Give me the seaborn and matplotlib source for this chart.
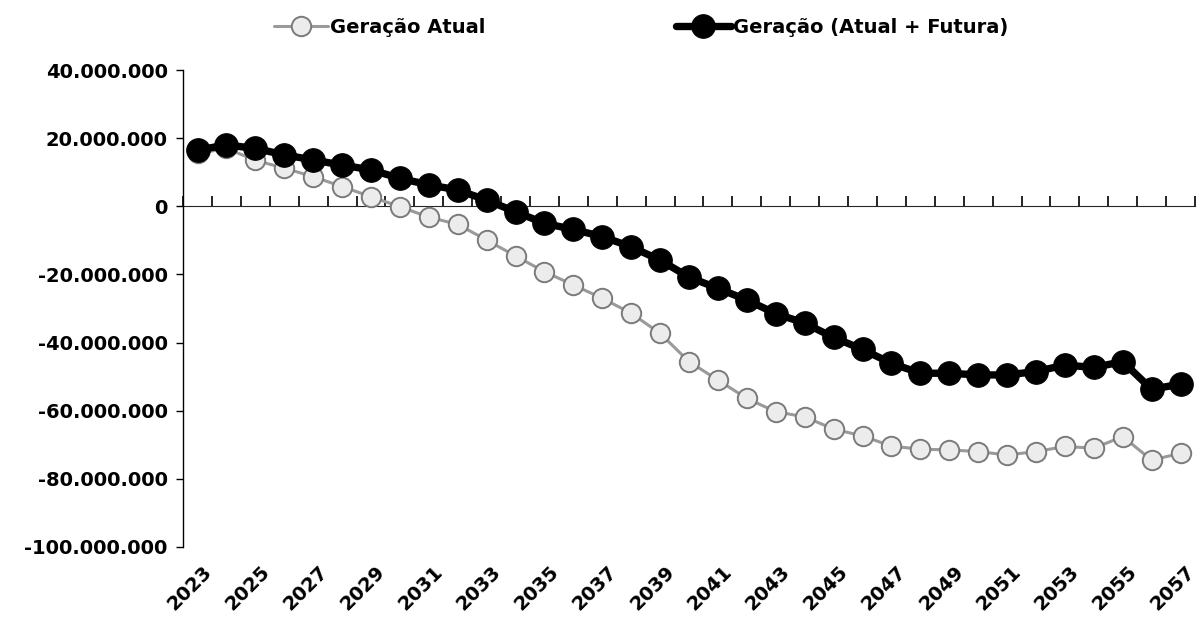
import seaborn as sns
import matplotlib.pyplot as plt
import matplotlib.transforms as mtransforms
import matplotlib.ticker as mticker
import pandas as pd

# anos da projeção
anos = list(range(2023, 2058))

# Geração Atual
geracao_atual = [15.5, 17.0, 13.5, 11.2, 8.7, 5.8, 2.8, -0.1, -3.2, -5.3,
                 -9.9, -14.6, -19.2, -23.1, -27.0, -31.4, -37.3, -45.6, -51.0, -56.4,
                 -60.3, -61.8, -65.4, -67.4, -70.4, -71.3, -71.5, -72.0, -73.0, -72.0,
                 -70.5, -71.0, -67.6, -74.5, -72.5]

# Geração (Atual + Futura)
geracao_total = [16.5, 18.0, 17.0, 15.1, 13.6, 12.1, 10.7, 8.2, 6.3, 4.8,
                 1.8, -1.6, -5.0, -6.8, -8.9, -11.9, -15.8, -20.8, -24.1, -27.5,
                 -31.5, -34.3, -38.5, -42.0, -46.1, -49.0, -49.0, -49.5, -49.5, -48.5,
                 -46.6, -47.3, -45.6, -53.7, -52.2]

df = pd.DataFrame({
    'ano': anos,
    'atual': [v * 1e6 for v in geracao_atual],
    'total': [v * 1e6 for v in geracao_total],
})

sns.set_style('white')
plt.rcParams['font.family'] = ['DejaVu Sans']
plt.rcParams['font.weight'] = 'bold'
plt.rcParams['text.color'] = 'black'
plt.rcParams['xtick.color'] = 'black'
plt.rcParams['ytick.color'] = 'black'
plt.rcParams['axes.labelcolor'] = 'black'

fig = plt.figure(figsize=(11.98, 6.17), dpi=100)
ax = fig.add_axes([0.1528, 0.1135, 0.8447, 0.773])

sns.lineplot(data=df, x='ano', y='atual', ax=ax, color='#9a9a9a', linewidth=2.2,
             marker='o', markersize=14, markerfacecolor='#ececec',
             markeredgecolor='#7a7a7a', markeredgewidth=1.4,
             label='Geração Atual', zorder=2)
sns.lineplot(data=df, x='ano', y='total', ax=ax, color='black', linewidth=5.3,
             marker='o', markersize=17, markerfacecolor='black',
             markeredgecolor='black', label='Geração (Atual + Futura)', zorder=3)

ax.set_xlim(2022.5, 2057.5)
ax.set_ylim(-100e6, 40e6)
ax.set_yticks(range(-100000000, 40000001, 20000000))
ax.yaxis.set_major_formatter(mticker.FuncFormatter(lambda v, p: f'{int(v):,}'.replace(',', '.')))
ax.set_xlabel('')
ax.set_ylabel('')

for s in ['top', 'right', 'bottom']:
    ax.spines[s].set_visible(False)
ax.spines['left'].set_color('black')
ax.spines['left'].set_linewidth(1)
ax.tick_params(axis='y', direction='out', length=5, width=1, left=True,
               labelsize=14, pad=6, colors='black')

# rótulos dos anos na parte de baixo
ax.set_xticks(anos[::2])
ax.set_xticklabels([str(a) for a in anos[::2]], rotation=45, ha='right',
                   fontsize=14, fontweight='bold', color='black')
ax.tick_params(axis='x', length=0, pad=11)
offset = mtransforms.ScaledTranslation(0.18, 0, fig.dpi_scale_trans)
for lbl in ax.get_xticklabels():
    lbl.set_transform(lbl.get_transform() + offset)

# eixo horizontal no zero com marcas entre categorias
eixo0 = ax.secondary_xaxis(100 / 140)
eixo0.set_xticks([a - 0.5 for a in anos] + [anos[-1] + 0.5])
eixo0.set_xticklabels([])
eixo0.tick_params(direction='out', length=7, width=1.2, color='black')
eixo0.spines['bottom'].set_linewidth(1.2)
eixo0.spines['bottom'].set_color('black')

ax.legend_.remove()
h, l = ax.get_legend_handles_labels()
leg = fig.legend(h, l, loc='center', bbox_to_anchor=(0.535, 0.955), ncol=2,
                 frameon=False, handlelength=2.8, handletextpad=0.1,
                 columnspacing=9.8, prop={'weight': 'bold', 'size': 14})
for t in leg.get_texts():
    t.set_color('black')

plt.savefig('out.png', dpi=100)
